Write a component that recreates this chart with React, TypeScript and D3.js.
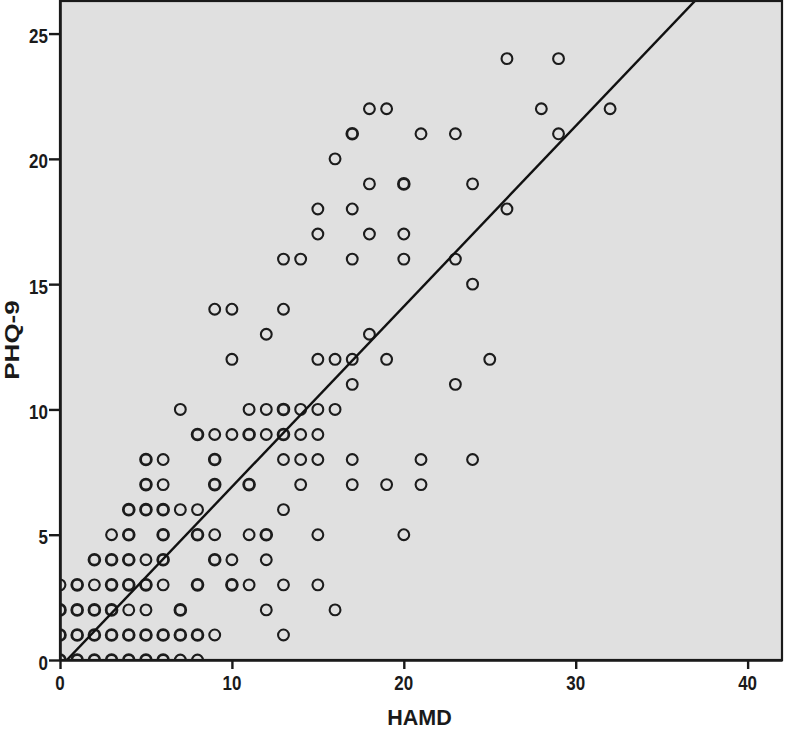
import React, { useEffect, useRef } from "react";
import * as d3 from "d3";

// PHQ-9 score levels and the HAMD scores seen at each level (repeats = several cases)
const phqLevels = [0, 1, 2, 3, 4, 5, 6, 7, 8, 9, 10, 11, 12, 13, 14, 15, 16, 17, 18, 19, 20, 21, 22, 24];
const hamdByLevel: number[][] = [
  [0, 0, 1, 1, 2, 2, 3, 3, 4, 4, 5, 5, 6, 6, 7, 8],
  [0, 0, 1, 1, 2, 2, 3, 3, 4, 4, 5, 5, 6, 6, 7, 7, 8, 8, 9, 13],
  [0, 0, 1, 1, 2, 2, 3, 3, 4, 5, 7, 7, 12, 16],
  [0, 1, 1, 2, 3, 3, 4, 4, 5, 5, 6, 8, 8, 10, 10, 11, 13, 15],
  [2, 2, 3, 3, 4, 4, 5, 6, 6, 9, 9, 10, 12],
  [3, 4, 4, 6, 6, 8, 8, 9, 11, 12, 12, 15, 20],
  [4, 4, 5, 5, 6, 6, 7, 8, 13],
  [5, 5, 6, 9, 9, 11, 11, 14, 17, 19, 21],
  [5, 5, 6, 9, 9, 13, 14, 15, 17, 21, 24],
  [8, 8, 9, 10, 11, 11, 12, 13, 13, 14, 15],
  [7, 11, 12, 13, 13, 14, 15, 16],
  [17, 23],
  [10, 15, 16, 17, 19, 25],
  [12, 18],
  [9, 10, 13],
  [24],
  [13, 14, 17, 20, 23],
  [15, 18, 20],
  [15, 17, 26],
  [18, 20, 20, 24],
  [16],
  [17, 17, 21, 23, 29],
  [18, 19, 28, 32],
  [26, 29],
];

// linear fit
const fitSlope = 0.72;
const fitIntercept = -0.29;

const xTicks = [0, 10, 20, 30, 40];
const yTicks = [0, 5, 10, 15, 20, 25];

const W = 786;
const H = 731;
const FONT = "Liberation Sans, Arial, sans-serif";

export default function App() {
  const svgRef = useRef<SVGSVGElement>(null);

  useEffect(() => {
    if (!svgRef.current) return;
    const root = d3.select(svgRef.current);
    root.selectAll("*").remove();

    const left = 60, right = 782, top = 1, bottom = 660;
    const x = d3.scaleLinear().domain([0, 42]).range([left, right]);
    const y = d3.scaleLinear().domain([0, 26.3]).range([bottom, top]);

    const points = phqLevels.flatMap((p, i) => hamdByLevel[i].map((h) => ({ x: h, y: p })));
    const counts = d3.rollup(points, (v) => v.length, (d) => `${d.x}-${d.y}`);
    const uniq = Array.from(counts, ([k, n]) => {
      const [hx, py] = k.split("-").map(Number);
      return { x: hx, y: py, n };
    });

    root.append("defs").append("clipPath").attr("id", "plotClip")
      .append("rect")
      .attr("x", left).attr("y", top)
      .attr("width", right - left).attr("height", bottom - top);

    // background
    root.append("rect")
      .attr("x", left).attr("y", top)
      .attr("width", right - left).attr("height", bottom - top)
      .attr("fill", "#e0e0e0");

    const plot = root.append("g").attr("clip-path", "url(#plotClip)");

    plot.selectAll("circle")
      .data(uniq)
      .enter()
      .append("circle")
      .attr("cx", (d) => x(d.x))
      .attr("cy", (d) => y(d.y))
      .attr("r", 5.4)
      .attr("fill", "none")
      .attr("stroke", "#1c1c1c")
      .attr("stroke-width", (d) => (d.n > 1 ? 2.8 : 2.1));

    const line = d3.line<number>().x((d) => x(d)).y((d) => y(fitSlope * d + fitIntercept));
    plot.append("path")
      .datum([0, 42])
      .attr("d", line)
      .attr("fill", "none")
      .attr("stroke", "#111")
      .attr("stroke-width", 2.4);

    // frame
    root.append("rect")
      .attr("x", left).attr("y", top)
      .attr("width", right - left).attr("height", bottom - top)
      .attr("fill", "none")
      .attr("stroke", "#1a1a1a")
      .attr("stroke-width", 2.2);

    const xAxis = d3.axisBottom(x).tickValues(xTicks).tickSize(9).tickSizeOuter(0).tickFormat(() => "");
    const yAxis = d3.axisLeft(y).tickValues(yTicks).tickSize(11).tickSizeOuter(0).tickFormat(() => "");

    const gx = root.append("g").attr("transform", `translate(0,${bottom})`).call(xAxis);
    const gy = root.append("g").attr("transform", `translate(${left},0)`).call(yAxis);

    [gx, gy].forEach((g) => {
      g.select(".domain").attr("stroke", "#1a1a1a").attr("stroke-width", 2.6);
      g.selectAll(".tick line").attr("stroke", "#1a1a1a").attr("stroke-width", 2.4);
    });

    // tick labels, a little taller than wide as in the source
    root.append("g").selectAll("text")
      .data(xTicks)
      .enter()
      .append("text")
      .attr("transform", (d) => `translate(${x(d)},690) scale(1,1.15)`)
      .attr("text-anchor", "middle")
      .attr("font-family", FONT)
      .attr("font-size", "17px")
      .attr("font-weight", "bold")
      .attr("fill", "#1a1a1a")
      .text((d) => d);

    root.append("g").selectAll("text")
      .data(yTicks)
      .enter()
      .append("text")
      .attr("transform", (d) => `translate(48,${y(d) + 9.5}) scale(1,1.15)`)
      .attr("text-anchor", "end")
      .attr("font-family", FONT)
      .attr("font-size", "17px")
      .attr("font-weight", "bold")
      .attr("fill", "#1a1a1a")
      .text((d) => d);

    root.append("text")
      .attr("x", 419.5)
      .attr("y", 725)
      .attr("text-anchor", "middle")
      .attr("font-family", FONT)
      .attr("font-size", "21.5px")
      .attr("font-weight", "bold")
      .attr("fill", "#1a1a1a")
      .text("HAMD");

    root.append("text")
      .attr("transform", `translate(19,340) rotate(-90) scale(1.3,1)`)
      .attr("text-anchor", "middle")
      .attr("font-family", FONT)
      .attr("font-size", "20px")
      .attr("font-weight", "bold")
      .attr("fill", "#1a1a1a")
      .text("PHQ-9");
  }, []);

  return (
    <svg
      ref={svgRef}
      width={W}
      height={H}
      style={{ position: "absolute", left: 0, top: 0, background: "#fff" }}
    />
  );
}
